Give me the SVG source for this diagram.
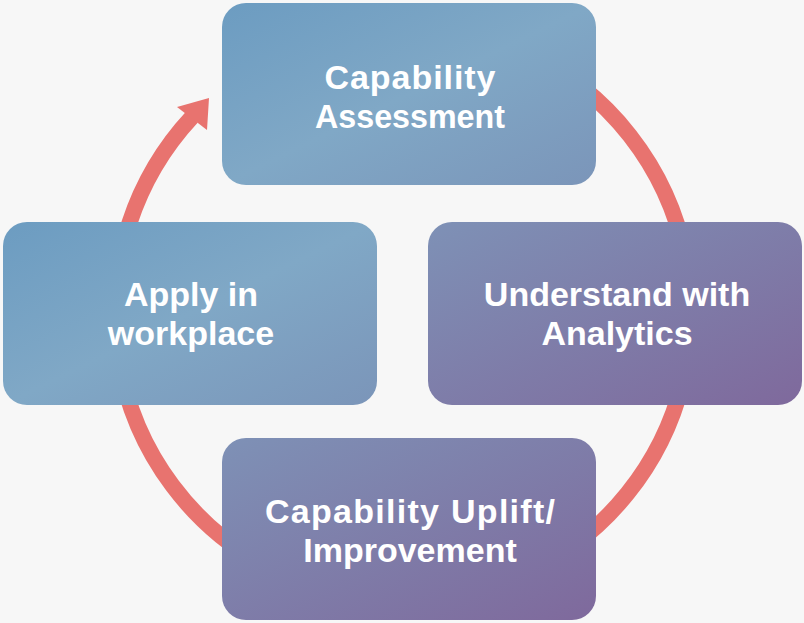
<svg xmlns="http://www.w3.org/2000/svg" width="804" height="623" viewBox="0 0 804 623">
  <defs>
    <linearGradient id="gBlue" x1="0" y1="0" x2="1" y2="1">
      <stop offset="0" stop-color="#6c9cc1"/>
      <stop offset="0.5" stop-color="#80a8c6"/>
      <stop offset="1" stop-color="#7b95b9"/>
    </linearGradient>
    <linearGradient id="gPurple" x1="0" y1="0" x2="1" y2="1">
      <stop offset="0" stop-color="#7e91b6"/>
      <stop offset="1" stop-color="#7f699c"/>
    </linearGradient>
    <style>
      .box-b { fill: url(#gBlue); }
      .box-p { fill: url(#gPurple); }
      .lbl { font-family: "Liberation Sans", Arial, sans-serif; font-weight: bold; font-size: 34px; fill: #ffffff; text-anchor: middle; }
      .ring { fill: none; stroke: #e8736f; stroke-width: 16; }
      .head { fill: #e8736f; }
    </style>
  </defs>
  <rect x="0" y="0" width="804" height="623" fill="#f7f7f7"/>
  <g id="connectors">
    <path class="ring" d="M 402 25 A 288 288 0 1 1 192 117"/>
    <polygon class="head" points="209,98 177,107 207,130"/>
  </g>
  <g id="node-assessment">
    <rect class="box-b" x="222" y="3" width="374" height="182" rx="24"/>
    <text class="lbl" x="410" y="89" textLength="171" lengthAdjust="spacing">Capability</text>
    <text class="lbl" x="410" y="128" textLength="190" lengthAdjust="spacingAndGlyphs">Assessment</text>
  </g>
  <g id="node-apply">
    <rect class="box-b" x="3" y="222" width="374" height="183" rx="24"/>
    <text class="lbl" x="191" y="306">Apply in</text>
    <text class="lbl" x="191" y="345">workplace</text>
  </g>
  <g id="node-analytics">
    <rect class="box-p" x="428" y="222" width="374" height="183" rx="24"/>
    <text class="lbl" x="617" y="306">Understand with</text>
    <text class="lbl" x="617" y="345">Analytics</text>
  </g>
  <g id="node-uplift">
    <rect class="box-p" x="222" y="438" width="374" height="182" rx="24"/>
    <text class="lbl" x="410" y="523" textLength="290" lengthAdjust="spacing">Capability Uplift/</text>
    <text class="lbl" x="410" y="562">Improvement</text>
  </g>
</svg>
